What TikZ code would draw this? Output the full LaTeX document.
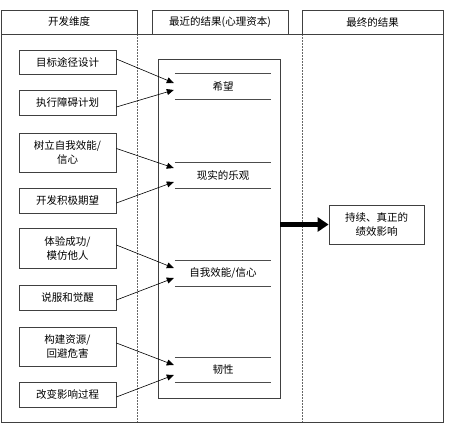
\documentclass[tikz,border=0pt]{standalone}
\usepackage{fontspec}
\setmainfont{Noto Sans CJK SC}
\usetikzlibrary{arrows.meta,calc}
\begin{document}
\begin{tikzpicture}[x=1pt,y=-1pt,
  every node/.style={font=\fontsize{10.5}{14}\selectfont, align=center, inner sep=0pt},
  frame/.style={draw=black!75, line width=0.8pt},
  sepline/.style={draw=black!60, line width=0.6pt, dash pattern=on 1.5pt off 1.5pt},
  hdr/.style={frame, minimum height=24pt},
  leftbox/.style={frame, minimum width=97pt},
  itembox/.style={minimum width=96pt, minimum height=25pt},
  itemline/.style={draw=black!70, line width=0.8pt},
  thin/.style={draw=black, line width=0.6pt, -{Triangle[length=7pt,width=6pt]}},
  thick/.style={draw=black, line width=4.5pt, -{Triangle[length=11pt,width=14pt]}}
]
\useasboundingbox (0,0) rectangle (450,434);
% body frame and separators
\draw[frame] (1,34) rectangle (443,422);
\draw[sepline] (137,34) -- (137,422);
\draw[sepline] (302,34) -- (302,422);
% headers
\node[hdr, minimum width=136pt] (h1) at (69,22) {开发维度};
\node[hdr, minimum width=136pt] (h2) at (220,22) {最近的结果(心理资本)};
\node[hdr, minimum width=141pt] (h3) at (372.5,22) {最终的结果};
% left boxes
\node[leftbox, minimum height=24pt] (b1) at (67.5,62) {目标途径设计};
\node[leftbox, minimum height=25pt] (b2) at (67.5,103) {执行障碍计划};
\node[leftbox, minimum height=39pt] (b3) at (67.5,152.5) {树立自我效能/\\信心};
\node[leftbox, minimum height=25pt] (b4) at (67.5,200.5) {开发积极期望};
\node[leftbox, minimum height=40pt] (b5) at (67.5,248) {体验成功/\\模仿他人};
\node[leftbox, minimum height=25pt] (b6) at (67.5,297.5) {说服和觉醒};
\node[leftbox, minimum height=39pt] (b7) at (67.5,346.5) {构建资源/\\回避危害};
\node[leftbox, minimum height=25pt] (b8) at (67.5,394.5) {改变影响过程};
% middle box
\node[frame, minimum width=122pt, minimum height=339pt] (mid) at (219,228.5) {};
\node[itembox] (p1) at (223,86.5) {希望};
\node[itembox] (p2) at (223,175.5) {现实的乐观};
\node[itembox] (p3) at (223,273.5) {自我效能/信心};
\node[itembox] (p4) at (223,370) {韧性};
\foreach \p in {p1,p2,p3,p4}{
  \draw[itemline] (\p.north west) -- (\p.north east);
  \draw[itemline] (\p.south west) -- (\p.south east);
}
% final box
\node[frame, minimum width=95pt, minimum height=39pt] (fin) at (376.5,224.5) {持续、真正的\\绩效影响};
% connectors
\draw[thin] ([yshift=3pt]b1.east) -- ([yshift=3.5pt,xshift=-1pt]p1.west);
\draw[thin] ([yshift=-4pt]b2.east) -- ([yshift=-3.5pt,xshift=-1pt]p1.west);
\draw[thin] ([yshift=4pt]b3.east) -- ([yshift=7.5pt,xshift=-1pt]p2.west);
\draw[thin] ([yshift=-2.5pt]b4.east) -- ([yshift=-6.5pt,xshift=-1pt]p2.west);
\draw[thin] ([yshift=3pt]b5.east) -- ([yshift=5.5pt,xshift=-1pt]p3.west);
\draw[thin] ([yshift=-2.5pt]b6.east) -- ([yshift=-4.5pt,xshift=-1pt]p3.west);
\draw[thin] ([yshift=3.5pt]b7.east) -- ([yshift=5pt,xshift=-1pt]p4.west);
\draw[thin] ([yshift=-2.5pt]b8.east) -- ([yshift=-5pt,xshift=-1pt]p4.west);
\draw[thick] (mid.east |- fin.west) -- (fin.west);
\end{tikzpicture}
\end{document}
